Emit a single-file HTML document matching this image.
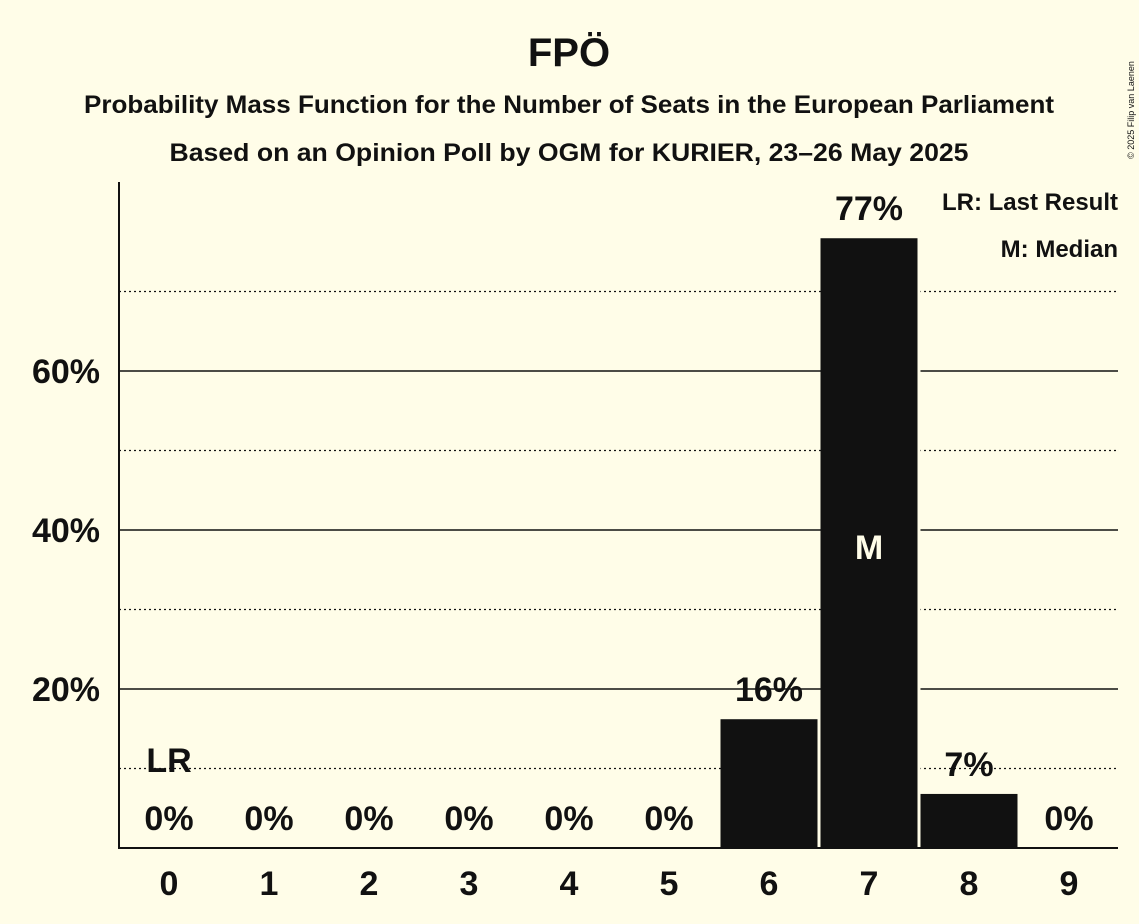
<!DOCTYPE html>
<html><head><meta charset="utf-8"><style>
body{margin:0;background:#fffde8;}
svg{display:block;font-family:"Liberation Sans",sans-serif;}
</style></head><body>
<svg id="chart" width="1139" height="924">
<rect width="1139" height="924" fill="#fffde8"/>
<text x="569" y="66" text-anchor="middle" font-size="40" font-weight="bold" fill="#111">FPÖ</text>
<text x="569" y="113" text-anchor="middle" font-size="25" font-weight="bold" fill="#111" textLength="970" lengthAdjust="spacingAndGlyphs">Probability Mass Function for the Number of Seats in the European Parliament</text>
<text x="569" y="161" text-anchor="middle" font-size="25" font-weight="bold" fill="#111" textLength="799" lengthAdjust="spacingAndGlyphs">Based on an Opinion Poll by OGM for KURIER, 23–26 May 2025</text>
<text x="1134" y="110" font-size="9" fill="#111" transform="rotate(-90 1134 110)" text-anchor="middle">© 2025 Filip van Laenen</text>
<text x="1118" y="210" text-anchor="end" font-size="24" font-weight="bold" fill="#111">LR: Last Result</text>
<text x="1118" y="257" text-anchor="end" font-size="24" font-weight="bold" fill="#111">M: Median</text>
<g id="grid"></g><g id="bars"></g><g id="labels"></g>
<line x1="119" y1="182" x2="119" y2="849" stroke="#111" stroke-width="2"/>
<line x1="118" y1="848" x2="1118" y2="848" stroke="#111" stroke-width="2"/>
</svg>
<script>
const categories=[0,1,2,3,4,5,6,7,8,9];
const values=[0,0,0,0,0,0,16.2,76.7,6.8,0];
const valueLabels=["0%","0%","0%","0%","0%","0%","16%","77%","7%","0%"];
const majorTicks=[20,40,60];
const minorTicks=[10,30,50,70];
const lastResult=0, median=7;
const NS="http://www.w3.org/2000/svg";
const y=v=>848-v*7.95;
const x=c=>169+c*100;
function mk(t,a,p){const e=document.createElementNS(NS,t);for(const k in a)e.setAttribute(k,a[k]);p.appendChild(e);return e;}
const g=document.getElementById('grid'),b=document.getElementById('bars'),l=document.getElementById('labels');
minorTicks.forEach(v=>{const e=mk('line',{x1:119,x2:1118,y1:y(v),y2:y(v),stroke:'#111','stroke-width':1.3,'stroke-dasharray':'2,3'},g);

});
majorTicks.forEach(v=>{const e=mk('line',{x1:119,x2:1118,y1:y(v),y2:y(v),stroke:'#111','stroke-width':1.5},g);


const t=mk('text',{x:100,y:y(v)+12,'text-anchor':'end','font-size':34,'font-weight':'bold',fill:'#111'},g);t.textContent=v+'%';

});
categories.forEach((c,i)=>{
 const v=values[i];
 if(v>0){const r=mk('rect',{x:x(c)-48.5,y:y(v),width:97,height:848-y(v),fill:'#111'},b);
 
 
 const gp=mk('rect',{x:x(c)+48.5,y:y(v),width:3,height:848-y(v),fill:'#fffde8'},b);
 
 }
 const ly=v>0?y(v)-18:830;
 const t=mk('text',{x:x(c),y:ly,'text-anchor':'middle','font-size':34,'font-weight':'bold',fill:'#111'},l);t.textContent=valueLabels[i];
 
 
 const xt=mk('text',{x:x(c),y:895,'text-anchor':'middle','font-size':34,'font-weight':'bold',fill:'#111'},l);xt.textContent=c;
 
 
});
const lr=mk('text',{x:x(lastResult),y:772,'text-anchor':'middle','font-size':34,'font-weight':'bold',fill:'#111'},l);lr.textContent='LR';


const m=mk('text',{x:x(median),y:559,'text-anchor':'middle','font-size':34,'font-weight':'bold',fill:'#fffde8'},l);m.textContent='M';


</script>
</body></html>
